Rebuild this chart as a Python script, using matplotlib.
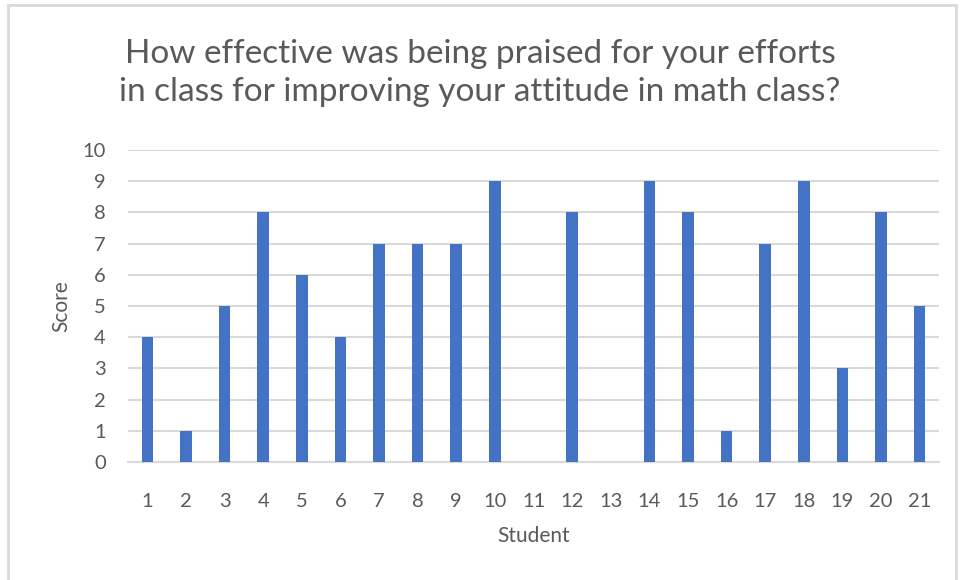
import matplotlib
matplotlib.use("Agg")
import matplotlib.pyplot as plt
from matplotlib.patches import Rectangle

students = [str(i) for i in range(1, 22)]
scores = [4, 1, 5, 8, 6, 4, 7, 7, 7, 9, 0, 8, 0, 9, 8, 1, 7, 9, 3, 8, 5]
yticks = list(range(0, 11))

plt.rcParams['font.family'] = ['Lato', 'DejaVu Sans']
txt = '#595959'

fig = plt.figure(figsize=(9.6, 5.8), dpi=100)
fig.patches.append(Rectangle((8/960, -0.01), (956-8)/960, 1 - 5/580 + 0.01,
                             transform=fig.transFigure, fill=False,
                             edgecolor='#d9d9d9', linewidth=2))
ax = fig.add_axes([128/960, 1-462/580, (939-128)/960, (462-150)/580])
x = list(range(len(students)))
ax.bar(x, scores, width=0.3, color='#4472C4', zorder=3)
ax.set_xlim(-0.5, len(students) - 0.5)
ax.set_ylim(0, 10)
ax.set_yticks(yticks)
ax.set_xticks(x)
ax.set_xticklabels(students)
ax.yaxis.grid(True, color='#d9d9d9', linewidth=1.5, zorder=0)
for s in ['top', 'right', 'left']:
    ax.spines[s].set_visible(False)
ax.spines['bottom'].set_color('#d9d9d9')
ax.spines['bottom'].set_linewidth(1.5)
ax.tick_params(axis='both', length=0, labelsize=14.5, colors=txt)
ax.tick_params(axis='x', pad=22)
ax.tick_params(axis='y', pad=16)
ax.set_xlabel('Student', fontsize=15, color=txt, labelpad=12)
ax.set_ylabel('Score', fontsize=15, color=txt, labelpad=8)
fig.text(0.5, 1-73/580, 'How effective was being praised for your efforts\nin class for improving your attitude in math class?',
         ha='center', va='center', fontsize=24, color=txt, linespacing=1.35)
fig.savefig('out.png', dpi=100)
